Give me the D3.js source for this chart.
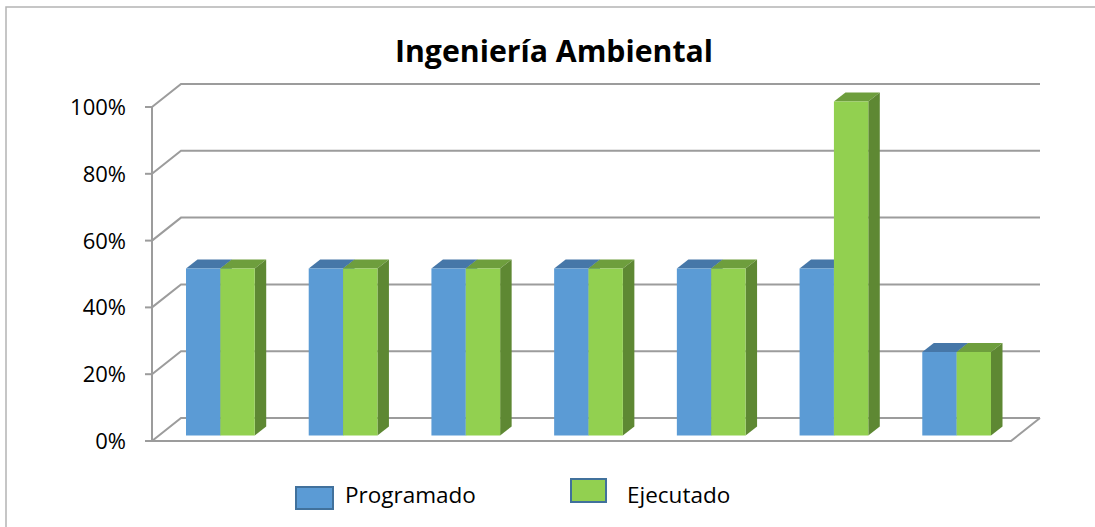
<!DOCTYPE html>
<html>
<head>
<meta charset="utf-8">
<script src="https://cdn.jsdelivr.net/npm/d3@7"></script>
<style>
  body { margin: 0; background: #fff; }
  svg { display: block; font-family: "Open Sans", "Noto Sans", sans-serif; }
</style>
</head>
<body>
<svg id="chart" width="1095" height="527"></svg>
<script>
/* datos del grafico */
const categorias = ["1", "2", "3", "4", "5", "6", "7"];
const series = ["Programado", "Ejecutado"];
const programado = [50, 50, 50, 50, 50, 50, 25];
const ejecutado = [50, 50, 50, 50, 50, 100, 25];
const ticks = [0, 20, 40, 60, 80, 100];

const titulo = "Ingeniería Ambiental";

// profundidad 3D (pared trasera y barras)
const wallDx = 29, wallDy = -23;
const barOffX = 7, barOffY = -5.5;
const barDx = 11.5, barDy = -9;

const colores = {
  Programado: { front: "#5B9BD5", top: "#4677A8", side: "#41719C" },
  Ejecutado:  { front: "#92D050", top: "#6E9E3D", side: "#5E8833" }
};
const gridColor = "#9C9C9C";

const svg = d3.select("#chart");

// marco
svg.append("rect")
  .attr("x", 6).attr("y", 7)
  .attr("width", 1100).attr("height", 530)
  .attr("fill", "none")
  .attr("stroke", "#B4B4B4")
  .attr("stroke-width", 1.5);

// titulo
svg.append("text")
  .attr("x", 554).attr("y", 62)
  .attr("text-anchor", "middle")
  .attr("font-size", 30)
  .attr("font-weight", "bold")
  .attr("textLength", 318)
  .attr("lengthAdjust", "spacingAndGlyphs")
  .text(titulo);

const x0 = 152, x1 = 1011;
const y = d3.scaleLinear().domain([0, 100]).range([441, 107]);

const xBand = d3.scaleBand().domain(categorias).range([x0, x1])
  .paddingInner(0.44).paddingOuter(0.22);
const xSub = d3.scaleBand().domain(series).range([0, xBand.bandwidth()]);

// lineas de division: pared izquierda + pared trasera
const grid = svg.append("g")
  .attr("stroke", gridColor).attr("stroke-width", 2).attr("fill", "none");

ticks.forEach(function(t) {
  grid.append("path")
    .attr("d", d3.line()([[x0, y(t)], [x0 + wallDx, y(t) + wallDy], [x1 + wallDx, y(t) + wallDy]]));
  grid.append("line")
    .attr("x1", x0 - 7).attr("x2", x0)
    .attr("y1", y(t)).attr("y2", y(t));
});

// eje vertical
grid.append("line")
  .attr("x1", x0).attr("x2", x0)
  .attr("y1", y(100)).attr("y2", y(0));

// piso
grid.append("path")
  .attr("d", d3.line()([[x0, y(0)], [x1, y(0)], [x1 + wallDx, y(0) + wallDy]]));

// etiquetas del eje
svg.append("g").selectAll("text")
  .data(ticks)
  .enter().append("text")
    .attr("x", 126)
    .attr("y", function(d) { return y(d); })
    .attr("dy", "0.36em")
    .attr("text-anchor", "end")
    .attr("font-size", 22)
    .attr("fill", "#000")
    .text(function(d) { return d + "%"; });

// barras 3D
const datos = [];
categorias.forEach(function(c, i) {
  datos.push({ cat: c, serie: "Programado", valor: programado[i] });
  datos.push({ cat: c, serie: "Ejecutado", valor: ejecutado[i] });
});

const barras = svg.append("g").selectAll("g")
  .data(datos)
  .enter().append("g");

barras.each(function(d) {
  const g = d3.select(this);
  const bx = xBand(d.cat) + xSub(d.serie) + barOffX;
  const w = xSub.bandwidth();
  const yb = y(0) + barOffY;
  const yt = y(d.valor) + barOffY;
  const c = colores[d.serie];
  // techo
  g.append("path")
    .attr("d", d3.line()([[bx, yt], [bx + barDx, yt + barDy], [bx + w + barDx, yt + barDy], [bx + w, yt]]) + "Z")
    .attr("fill", c.top);
  // lado
  g.append("path")
    .attr("d", d3.line()([[bx + w, yt], [bx + w + barDx, yt + barDy], [bx + w + barDx, yb + barDy], [bx + w, yb]]) + "Z")
    .attr("fill", c.side);
  // frente
  g.append("rect")
    .attr("x", bx).attr("y", yt)
    .attr("width", w).attr("height", yb - yt)
    .attr("fill", c.front);
});

// leyenda
const leyenda = [
  { serie: "Programado", x: 296, y: 487, w: 37, h: 22, tx: 345, ty: 503 },
  { serie: "Ejecutado", x: 571, y: 479, w: 35, h: 23, tx: 627, ty: 503 }
];
const ley = svg.append("g").selectAll("g")
  .data(leyenda)
  .enter().append("g");
ley.append("rect")
  .attr("x", function(d) { return d.x; })
  .attr("y", function(d) { return d.y; })
  .attr("width", function(d) { return d.w; })
  .attr("height", function(d) { return d.h; })
  .attr("fill", function(d) { return colores[d.serie].front; })
  .attr("stroke", "#41719C")
  .attr("stroke-width", 2);
ley.append("text")
  .attr("x", function(d) { return d.tx; })
  .attr("y", function(d) { return d.ty; })
  .attr("font-size", 22.5)
  .attr("fill", "#000")
  .text(function(d) { return d.serie; });
</script>
</body>
</html>
